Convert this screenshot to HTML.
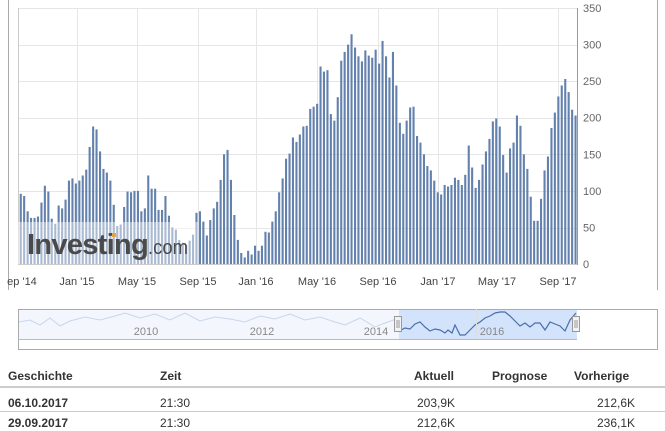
<!DOCTYPE html>
<html><head><meta charset="utf-8"><style>
body{margin:0;width:665px;height:431px;background:#fff;overflow:hidden;font-family:"Liberation Sans",sans-serif;}
svg{position:absolute;left:0;top:0}
.t{position:absolute;font-size:12px;color:#333;}
.b{font-weight:bold;}
</style></head><body>
<svg width="665" height="431" id="s" xmlns="http://www.w3.org/2000/svg"></svg>
<div class="t b" style="left:8px;top:369px">Geschichte</div>
<div class="t b" style="left:160px;top:369px">Zeit</div>
<div class="t b" style="left:414px;top:369px">Aktuell</div>
<div class="t b" style="left:492px;top:369px">Prognose</div>
<div class="t b" style="left:574px;top:369px">Vorherige</div>
<div style="position:absolute;left:0;top:386px;width:665px;height:2px;background:#ccc"></div>
<div class="t b" style="left:8px;top:396px">06.10.2017</div>
<div class="t" style="left:160px;top:396px">21:30</div>
<div class="t" style="left:417px;top:396px">203,9K</div>
<div class="t" style="left:597px;top:396px">212,6K</div>
<div style="position:absolute;left:0;top:411px;width:665px;height:1px;background:#ccc"></div>
<div class="t b" style="left:8px;top:416px">29.09.2017</div>
<div class="t" style="left:160px;top:416px">21:30</div>
<div class="t" style="left:417px;top:416px">212,6K</div>
<div class="t" style="left:597px;top:416px">236,1K</div>
<script>
var v=[96,93,72,63,63,65,84,107,99,62,55,80,76,88,114,117,110,114,121,129,160,188,184,154,130,125,114,81,52,54,78,99,98,100,100,72,76,121,103,103,74,74,93,66,50,47,33,29,26,32,40,70,72,58,39,60,76,85,115,150,156,115,67,33,15,9,18,13,25,18,25,44,43,58,72,98,117,144,151,173,167,177,188,189,212,215,219,270,263,265,
205,196,228,278,290,300,314,296,284,277,292,285,282,293,274,305,284,255,290,244,193,178,196,214,215,175,166,150,134,128,114,98,95,108,106,108,118,115,108,122,162,132,104,115,136,154,171,195,199,188,149,125,158,166,203,189,150,130,92,59,59,89,128,147,186,207,229,244,253,235,211,203];
var h='',N=v.length,x0=20.7,x1=575.5,p=(x1-x0)/(N-1);
h+='<line x1="8.5" y1="0" x2="8.5" y2="290" stroke="#aaa"/>';
h+='<line x1="657.5" y1="0" x2="657.5" y2="290" stroke="#aaa"/>';
[8,45,81,118,154,191,228].forEach(function(y){h+='<line x1="18" x2="577" y1="'+(y+.5)+'" y2="'+(y+.5)+'" stroke="#e6e6e6"/>';});
var gx=[77,137,198,256,317,378,438,497,558];
gx.forEach(function(x){h+='<line x1="'+(x+.5)+'" x2="'+(x+.5)+'" y1="8" y2="264" stroke="#e6e6e6"/>';});
h+='<line x1="18.5" y1="8" x2="18.5" y2="264" stroke="#ccc"/>';
for(var i=0;i<N;i++){var x=x0+i*p,hh=v[i]*0.7314;h+='<rect x="'+(x-1).toFixed(1)+'" y="'+(264-hh).toFixed(1)+'" width="2.1" height="'+hh.toFixed(1)+'" fill="#6381ad"/>';}
h+='<rect x="18" y="222" width="180" height="42" fill="#fff" opacity="0.45"/>';
h+='<text x="27" y="254" font-size="29" font-weight="bold" fill="#4a4a4a" font-family="Liberation Sans" letter-spacing="-0.8" textLength="121" lengthAdjust="spacingAndGlyphs">Investing</text>';
h+='<text x="148" y="254" font-size="20" fill="#4a4a4a" font-family="Liberation Sans" textLength="40" lengthAdjust="spacingAndGlyphs">.com</text>';
h+='<rect x="112" y="233" width="4" height="4" fill="#e8a33a"/>';
h+='<line x1="577.5" y1="8" x2="577.5" y2="265" stroke="#999"/>';
h+='<line x1="18" y1="264.5" x2="577" y2="264.5" stroke="#ccc"/>';
for(var k=0;k<=7;k++){h+='<text x="583" y="'+(268-k*36.57).toFixed(1)+'" font-size="11" fill="#666">'+(k*50)+'</text>';}
var lb=["ep '14","Jan '15","May '15","Sep '15","Jan '16","May '16","Sep '16","Jan '17","May '17","Sep '17"];
var lx=[22,77,137,198,256,317,378,438,497,558];
lb.forEach(function(t,i){h+='<text x="'+lx[i]+'" y="285" font-size="11" fill="#444" text-anchor="middle">'+t+'</text>';});
h+='<rect x="18.5" y="309.5" width="639" height="40" fill="none" stroke="#aaa"/>';
h+='<rect x="19" y="310" width="380" height="29" fill="#f3f7fd"/>';
var pts='19,322 30,320 40,325 50,318 60,326 70,321 85,317 100,320 115,316 125,313 140,318 155,314 170,320 185,313 200,321 215,317 230,319 245,322 260,316 275,319 290,314 305,320 320,317 335,322 345,325 360,318 375,327 385,323 399,318';
h+='<polyline points="'+pts+'" fill="none" stroke="#c8d6ea"/>';
h+='<rect x="399" y="310" width="178" height="29" fill="#d3e3fb"/>';
var p2='399,331 405,328 410,329 415,324 420,322 425,327 430,331 435,329 440,330 445,333 448,330 452,333 455,325 460,335 465,335 470,330 475,325 480,322 485,318 490,316 495,313 500,312 505,312 510,316 515,321 520,326 525,323 530,327 535,323 540,323 545,330 550,322 555,324 560,326 565,331 570,320 576,313';
h+='<polyline points="'+p2+'" fill="none" stroke="#4a6fa8" stroke-width="1.2"/>';
h+='<line x1="476.5" y1="309" x2="476.5" y2="339" stroke="#ddd"/>';
h+='<line x1="18" y1="339.5" x2="577" y2="339.5" stroke="#bbb"/>';
[["2010",146],["2012",262],["2014",376],["2016",492]].forEach(function(a){h+='<text x="'+a[1]+'" y="335" font-size="11" fill="#888" text-anchor="middle">'+a[0]+'</text>';});
[398,576].forEach(function(x){h+='<rect x="'+(x-3.5)+'" y="316.5" width="7" height="15" fill="#f2f2f2" stroke="#999"/><line x1="'+(x-1)+'" x2="'+(x-1)+'" y1="320" y2="328" stroke="#999"/><line x1="'+(x+1)+'" x2="'+(x+1)+'" y1="320" y2="328" stroke="#999"/>';});
document.getElementById('s').innerHTML=h;
</script>
</body></html>
